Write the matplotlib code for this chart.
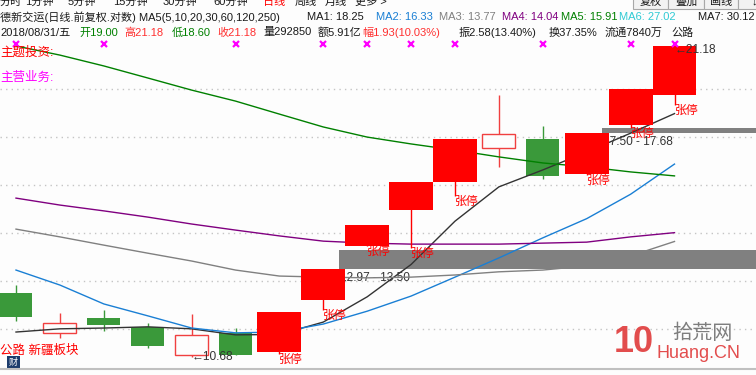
import matplotlib.pyplot as plt
from matplotlib.patches import Rectangle
from matplotlib.lines import Line2D
from matplotlib.transforms import blended_transform_factory
import numpy as np

plt.rcParams['font.family'] = ['Liberation Sans', 'Noto Sans CJK SC', 'DejaVu Sans']

W, H = 756, 375
BG = '#fdfdfd'
FS = 8.6
HFS = 8.0

# 日线 K 线 (前复权)
open_ = [12.29, 11.26, 11.63, 11.41, 10.72, 11.26, 10.80, 12.10,
         13.63, 14.76, 15.70, 16.92, 17.26, 15.98, 17.80, 19.00]
high = [12.51, 11.76, 11.84, 11.51, 11.74, 11.38, 11.79, 12.97,
        14.27, 15.70, 17.27, 19.00, 17.76, 17.50, 19.25, 21.18]
low = [11.56, 11.13, 11.31, 10.89, 10.68, 10.72, 10.75, 11.84,
       13.63, 13.57, 15.22, 16.23, 15.80, 15.95, 17.68, 18.60]
close = [11.66, 11.51, 11.46, 10.94, 11.21, 10.72, 11.79, 12.97,
         14.27, 15.70, 17.27, 17.45, 15.91, 17.50, 19.25, 21.18]
limit_up = [6, 7, 8, 9, 10, 13, 14, 15]

# 均线
ma1 = [11.28, 11.36, 11.38, 11.41, 11.36, 11.21, 11.22, 11.53,
       12.19, 13.09, 14.40, 15.53, 16.12, 16.77, 17.48, 18.25]
ma2 = [12.93, 12.51, 12.00, 11.69, 11.38, 11.26, 11.28, 11.48,
       11.81, 12.21, 12.73, 13.28, 13.88, 14.48, 15.28, 16.33]
ma3 = [14.15, 13.91, 13.66, 13.42, 13.19, 12.93, 12.76, 12.73,
       12.71, 12.73, 12.79, 12.88, 12.93, 13.05, 13.34, 13.77]
ma4 = [15.15, 14.92, 14.73, 14.53, 14.31, 14.12, 13.94, 13.78,
       13.72, 13.69, 13.69, 13.69, 13.72, 13.75, 13.91, 14.04]
ma5 = [21.18, 20.76, 20.27, 19.74, 19.22, 18.76, 18.23, 17.72,
       17.33, 17.07, 16.84, 16.59, 16.37, 16.23, 16.05, 15.91]
ma_colors = ['#333333', '#1a7fd4', '#808080', '#800080', '#008000']

# 信息地雷 / 缺口
mine_idx = [0, 2, 5, 7, 8, 9, 10, 12, 14, 15]
gap_idx = [8, 14]
gap_lo = [12.97, 17.50]
gap_hi = [13.50, 17.68]
grid_levels = [19.27, 17.33, 15.60, 14.03, 12.62, 11.36]

# 坐标映射: 21.18 在 y=46px, 对数 454px/单位, K 线间距 43.9px
PX, X0, DX = 454.0, 16.0, 43.9
fig = plt.figure(figsize=(W / 100, H / 100), dpi=100, facecolor=BG)
ax = fig.add_axes([0, 0, 1, 1])
ax.set_yscale('log')
ax.set_ylim(21.18 * np.exp(-(H - 46) / PX), 21.18 * np.exp(46 / PX))
ax.set_xlim(-X0 / DX, (W - X0) / DX)
ax.axis('off')

for lv in grid_levels:
    ax.axhline(lv, color='#c4c4c4', lw=1, ls=(0, (1, 3)), zorder=0.5)

for gi, lo, hi in zip(gap_idx, gap_lo, gap_hi):
    ax.fill_between([gi - 0.65, 20], lo, hi, color='#808080', lw=0, zorder=1)
    ax.annotate(f'{lo:.2f} - {hi:.2f}', xy=(gi - 0.62, lo), xytext=(0, -2.5),
                textcoords='offset points', ha='left', va='top',
                fontsize=FS, color='#333333', zorder=1.5)

for i, (o, h, l, c) in enumerate(zip(open_, high, low, close)):
    if i in limit_up:
        ax.vlines(i, l, h, color='#ff0000', lw=1, zorder=4)
        ax.add_patch(Rectangle((i - 0.5, min(o, c)), 1.0, abs(c - o),
                               facecolor='#ff0000', edgecolor='none', zorder=4))
        ax.annotate('张停', xy=(i, l), xytext=(0, 0), textcoords='offset points',
                    ha='left', va='top', fontsize=FS, color='#ff0000', zorder=5)
    elif c >= o:
        ax.vlines(i, l, h, color='#f04040', lw=1, zorder=2)
        ax.add_patch(Rectangle((i - 0.375, o), 0.75, c - o, facecolor=BG,
                               edgecolor='#f04040', lw=1, zorder=2.1))
    else:
        ax.vlines(i, l, h, color='#3a993a', lw=1, zorder=2)
        ax.add_patch(Rectangle((i - 0.375, c), 0.75, o - c, facecolor='#3a993a',
                               edgecolor='none', zorder=2.1))

for ma, col in zip([ma1, ma2, ma3, ma4, ma5], ma_colors):
    ax.plot(range(len(ma)), ma, color=col, lw=1, zorder=3)

trans = blended_transform_factory(ax.transData, ax.transAxes)
ax.plot(mine_idx, [1 - 44 / H] * len(mine_idx), transform=trans, ls='none',
        marker='x', ms=4, mew=1.6, color='#ff00ff', zorder=6, clip_on=False)

lo_i = int(np.argmin(low))
hi_i = int(np.argmax(high))
ax.annotate(f'←{low[lo_i]:.2f}', xy=(lo_i, low[lo_i]), xytext=(0, 0),
            textcoords='offset points', ha='left', va='center',
            fontsize=FS, color='#333333', zorder=6)
ax.annotate(f'←{high[hi_i]:.2f}', xy=(hi_i, high[hi_i]), xytext=(0, -3),
            textcoords='offset points', ha='left', va='center',
            fontsize=FS, color='#333333', zorder=6)


def ftext(x, y, s, color='#1a1a1a', **kw):
    fig.text(x / W, 1 - y / H, s, color=color, fontsize=kw.pop('fontsize', HFS),
             va=kw.pop('va', 'center'), ha=kw.pop('ha', 'left'), **kw)


# 顶部周期栏 (被截掉一半)
periods = ['分时', '1分钟', '5分钟', '15分钟', '30分钟', '60分钟', '日线', '周线', '月线', '更多 >']
period_x = [0, 25, 68, 113, 163, 213, 263, 295, 325, 355]
for s, x in zip(periods, period_x):
    ftext(x, 1.5, s, color='#ff0000' if s == '日线' else '#1a1a1a')
for s, x0, x1 in [('复权', 633, 668), ('叠加', 668, 704), ('画线', 704, 738), ('↓', 738, 770)]:
    fig.add_artist(Rectangle((x0 / W, 1 - 9 / H), (x1 - x0) / W, 14 / H,
                             transform=fig.transFigure, facecolor='#f2f2f2',
                             edgecolor='#a8a8a8', lw=0.8))
    ftext((x0 + x1) / 2, 1.5, s, ha='center')

# 指标行
row1 = [('德新交运(日线.前复权.对数) MA5(5,10,20,30,60,120,250)', 0, '#1a1a1a'),
        ('MA1: 18.25', 307, '#1a1a1a'), ('MA2: 16.33', 376, '#1a7fd4'),
        ('MA3: 13.77', 439, '#808080'), ('MA4: 14.04', 502, '#800080'),
        ('MA5: 15.91', 561, '#008000'), ('MA6: 27.02', 619, '#30cad4'),
        ('MA7: 30.12', 698, '#1a1a1a')]
for s, x, col in row1:
    ftext(x, 17.5, s, color=col)

row2 = [('2018/08/31/五', 0, '#1a1a1a'), ('开19.00', 79, '#008000'),
        ('高21.18', 124, '#ff3030'), ('低18.60', 172, '#008000'),
        ('收21.18', 217, '#ff3030'), ('量292850', 263, '#1a1a1a'),
        ('额5.91亿', 318, '#1a1a1a'), ('幅1.93(10.03%)', 362, '#ff3030'),
        ('振2.58(13.40%)', 459, '#1a1a1a'), ('换37.35%', 549, '#1a1a1a'),
        ('流通7840万', 605, '#1a1a1a'), ('公路', 671, '#1a1a1a')]
for s, x, col in row2:
    ftext(x, 32.5, s, color=col)

ftext(0, 53, '主题投资:', color='#ff0000', fontsize=9)
ftext(0, 78, '主营业务:', color='#ff00ff', fontsize=9)
ftext(0, 351, '公路 新疆板块', color='#ff0000', fontsize=9)
fig.add_artist(Rectangle((7 / W, 1 - 368 / H), 13 / W, 12 / H,
                         transform=fig.transFigure, facecolor='#1c3c6c', edgecolor='none'))
ftext(13.5, 362, '财', color='white', fontsize=6.5, ha='center')

fig.add_artist(Line2D([0, 1], [1 - 369 / H] * 2, transform=fig.transFigure,
                      color='#c0c0c0', lw=1.5))

# 水印
ftext(614, 343, '10', color='#e03a3a', fontsize=26, fontweight='bold', alpha=0.9)
ftext(672, 333, '拾荒网', color='#707070', fontsize=14.5, alpha=0.9)
ftext(657, 353, 'Huang.CN', color='#e03a3a', fontsize=13, alpha=0.9)

fig.savefig('out.png', dpi=100, facecolor=BG)
